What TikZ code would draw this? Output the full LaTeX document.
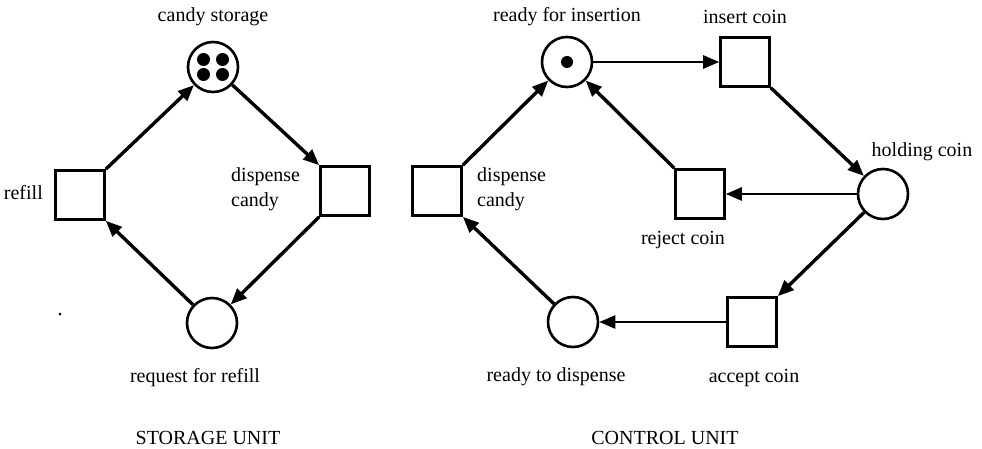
\documentclass[tikz,border=0pt]{standalone}
\usepackage{fontspec}
\setmainfont{Liberation Serif}
\usetikzlibrary{arrows.meta}
\begin{document}
\begin{tikzpicture}[x=1pt,y=-1pt,
  place/.style={circle,draw,line width=2.6pt,minimum size=50pt,inner sep=0pt},
  trans/.style={rectangle,draw,line width=2.6pt,minimum width=49pt,minimum height=49pt,inner sep=0pt},
  token/.style={circle,fill,inner sep=0pt,minimum size=#1},
  lbl/.style={font=\fontsize{20}{25}\selectfont,inner sep=0pt},
  arc/.style={line width=3.4pt,-{Triangle[length=16pt,width=13pt]}},
  harc/.style={line width=2.6pt,-{Triangle[length=16pt,width=13pt]}}]
\useasboundingbox (0,0) rectangle (982,449);

% ---------- storage unit ----------
\node[place] (cs) at (213,67) {};
\foreach \dx/\dy [count=\i] in {-9.5/-7.5,9.5/-7.5,-9.5/7.5,9.5/7.5}
  \node[token=13pt] (cst\i) at (213+\dx,67+\dy) {};
\node[trans] (rf) at (80,195) {};
\node[trans] (dc1) at (345,191) {};
\node[place] (rr) at (212,323) {};
\node[token=3pt] (speck) at (60,314) {};

\node[lbl] (lcs) at (213,17) {candy storage};
\node[lbl,anchor=east] (lrf) at (43,193) {refill};
\node[lbl,anchor=west,align=left] (ldc1) at (231,189) {dispense\\candy};
\node[lbl] (lrr) at (195,378) {request for refill};
\node[lbl] (lsu) at (208,438) {STORAGE UNIT};

\draw[arc] (rf.north east) -- (cs);
\draw[arc] (cs) -- (dc1.north west);
\draw[arc] (dc1.south west) -- (rr);
\draw[arc] (rr) -- (rf.south east);

% ---------- control unit ----------
\node[place] (rfi) at (567,62) {};
\node[token=12pt] (rfit) at (567,62) {};
\node[trans] (ic) at (745,62) {};
\node[place] (hc) at (883,194) {};
\node[trans] (rc) at (700,194) {};
\node[trans] (ac) at (752,322) {};
\node[place] (rtd) at (573,322) {};
\node[trans] (dc2) at (437,191) {};

\node[lbl] (lrfi) at (567,17) {ready for insertion};
\node[lbl] (lic) at (745,17) {insert coin};
\node[lbl] (lhc) at (922,152) {holding coin};
\node[lbl] (lrc) at (683,240) {reject coin};
\node[lbl] (lac) at (754,378) {accept coin};
\node[lbl] (lrtd) at (556,377) {ready to dispense};
\node[lbl,anchor=west,align=left] (ldc2) at (477,189) {dispense\\candy};
\node[lbl] (lcu) at (665,438) {CONTROL UNIT};

\draw[harc] (rfi) -- (ic);
\draw[arc] (ic.south east) -- (hc);
\draw[harc] (hc) -- (rc);
\draw[arc] (rc.north west) -- (rfi);
\draw[arc] (hc) -- (ac.north east);
\draw[harc] (ac) -- (rtd);
\draw[arc] (rtd) -- (dc2.south east);
\draw[arc] (dc2.north east) -- (rfi);
\end{tikzpicture}
\end{document}
